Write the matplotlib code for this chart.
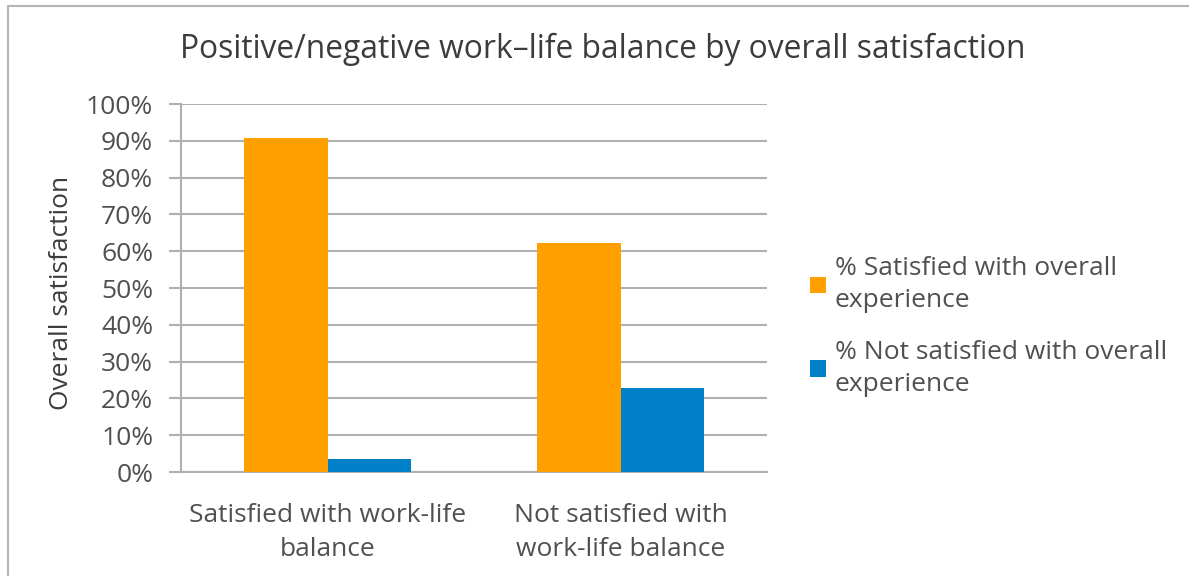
import numpy as np
import matplotlib.pyplot as plt
from matplotlib.patches import Rectangle

plt.rcParams['font.family'] = ['Open Sans', 'DejaVu Sans']

# Data
categories = ['Satisfied with work-life\nbalance', 'Not satisfied with\nwork-life balance']
series_names = ['% Satisfied with overall\nexperience', '% Not satisfied with overall\nexperience']
satisfied = [0.908, 0.622]
not_satisfied = [0.035, 0.227]

orange = '#FFA000'
blue = '#0080C8'
text_col = '#505050'
grid_col = '#B0B0B0'

W, H = 1189, 576
fig = plt.figure(figsize=(W / 100, H / 100), dpi=100)

# chart border (only top/left visible)
fig.patches.append(Rectangle((8 / W, -0.1), 1.2, (576 - 6) / H + 0.1, transform=fig.transFigure,
                             fill=False, edgecolor='#B4B4B4', lw=1.5))

ax = fig.add_axes([181 / W, (576 - 472) / H, (767 - 181) / W, (472 - 104) / H])

x = np.arange(len(categories))
bw = 0.285
ax.bar(x - bw / 2, satisfied, bw, color=orange, label=series_names[0], zorder=3)
ax.bar(x + bw / 2, not_satisfied, bw, color=blue, label=series_names[1], zorder=3)

ax.set_xlim(-0.5, 1.5)
ax.set_ylim(0, 1.0)
ax.set_yticks(np.arange(0, 1.01, 0.1))
ax.set_yticklabels([f'{int(round(v * 100))}%' for v in np.arange(0, 1.01, 0.1)])
ax.yaxis.grid(True, color=grid_col, lw=1.5, zorder=0)
ax.set_xticks(x)
ax.set_xticklabels(categories, linespacing=1.52)

for s in ['top', 'right']:
    ax.spines[s].set_visible(False)
for s in ['left', 'bottom']:
    ax.spines[s].set_color(grid_col)
    ax.spines[s].set_linewidth(1.5)

ax.tick_params(axis='y', length=9, width=1.5, color=grid_col, labelcolor=text_col,
               labelsize=19, pad=11)
ax.tick_params(axis='x', length=0, labelcolor=text_col, labelsize=19, pad=22)

fig.text(62 / W, 1 - 292.5 / H, 'Overall satisfaction', rotation=90, ha='center', va='center',
         fontsize=19, color='#3C3C3C')

fig.text(602.5 / W, 1 - 49 / H, 'Positive/negative work\u2013life balance by overall satisfaction',
         ha='center', va='center', fontsize=22.9, color='#3C3C3C')

leg = fig.legend(loc='center left', bbox_to_anchor=(786 / W, 1 - 326.5 / H), frameon=False,
                 fontsize=19, labelcolor=text_col, handlelength=0.6, handleheight=0.6,
                 handletextpad=0.35, labelspacing=1.0)
for t in leg.get_texts():
    t.set_linespacing(1.38)

fig.savefig('out.png', dpi=100)
